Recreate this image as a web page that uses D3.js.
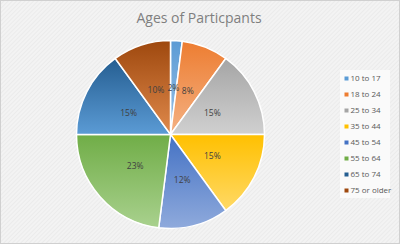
<!DOCTYPE html>
<meta charset="utf-8">
<style>
  body { margin: 0; }
  text { font-family: "Open Sans", "Liberation Sans", sans-serif; }
</style>
<body>
<div id="chart"></div>
</body>
<script src="https://d3js.org/d3.v7.min.js"></script>
<script>
// chart data
var ages = ["10 to 17", "18 to 24", "25 to 34", "35 to 44", "45 to 54", "55 to 64", "65 to 74", "75 or older"];
var shares = [2, 8, 15, 15, 12, 23, 15, 10];
var topColors = ["#5B9BD5", "#ED7D31", "#A5A5A5", "#FFC000", "#4472C4", "#70AD47", "#255E91", "#9E480E"];
var bottomColors = ["#9DC3E6", "#F4B183", "#D0D0D0", "#FFD966", "#8FAADC", "#A9D18E", "#5B9BD5", "#E08A4C"];

var width = 400, height = 244,
    cx = 170.5, cy = 134.5, radius = 94;

var svg = d3.select("#chart").append("svg")
  .attr("width", width)
  .attr("height", height);

var defs = svg.append("defs");

// faint diagonal texture of the background
var hatch = defs.append("pattern")
  .attr("id", "hatch")
  .attr("width", 3).attr("height", 3)
  .attr("patternUnits", "userSpaceOnUse")
  .attr("patternTransform", "rotate(45)");
hatch.append("rect").attr("width", 3).attr("height", 3).attr("fill", "#f3f3f3");
hatch.append("line").attr("x1", 0).attr("y1", 0).attr("x2", 0).attr("y2", 3)
  .attr("stroke", "#e4e4e4").attr("stroke-width", 1);

svg.append("rect")
  .attr("x", 0.5).attr("y", 0.5)
  .attr("width", width - 1).attr("height", height - 1)
  .attr("fill", "url(#hatch)")
  .attr("stroke", "#d0d0d0");

// title
svg.append("text")
  .attr("x", 199).attr("y", 23)
  .attr("text-anchor", "middle")
  .attr("font-size", 14)
  .attr("fill", "#7f7f7f")
  .text("Ages of Particpants");

// one vertical gradient per slice
ages.forEach(function(a, i){
  var g = defs.append("linearGradient")
    .attr("id", "grad" + i)
    .attr("x1", 0).attr("y1", 0).attr("x2", 0).attr("y2", 1);
  g.append("stop").attr("offset", "0%").attr("stop-color", topColors[i]);
  g.append("stop").attr("offset", "100%").attr("stop-color", bottomColors[i]);
});

var pie = d3.pie().sort(null).value(function(d){ return d; });
var arcs = pie(shares);
var arc = d3.arc().innerRadius(0).outerRadius(radius);
var labelArc = d3.arc().innerRadius(radius * 0.5).outerRadius(radius * 0.5);

var total = d3.sum(shares);

var g = svg.append("g")
  .attr("transform", "translate(" + cx + "," + cy + ")");

g.selectAll("path")
  .data(arcs)
  .enter().append("path")
  .attr("d", arc)
  .attr("fill", function(d, i){ return "url(#grad" + i + ")"; })
  .attr("stroke", "#ffffff")
  .attr("stroke-width", 1.5);

g.selectAll("text.lbl")
  .data(arcs)
  .enter().append("text")
  .attr("class", "lbl")
  .attr("transform", function(d){ return "translate(" + labelArc.centroid(d) + ")"; })
  .attr("text-anchor", "middle")
  .attr("dy", "0.35em")
  .attr("font-size", 8.5)
  .attr("fill", "#404040")
  .text(function(d){ return Math.round(d.data / total * 100) + "%"; });

// legend
var legend = svg.append("g");
legend.append("rect")
  .attr("x", 340).attr("y", 70)
  .attr("width", 50).attr("height", 128)
  .attr("fill", "#fafafa");

var ly = d3.scalePoint().domain(ages).range([78.5, 190.5]);

var items = legend.selectAll("g.item")
  .data(ages)
  .enter().append("g")
  .attr("class", "item")
  .attr("transform", function(d){ return "translate(0," + ly(d) + ")"; });

items.append("rect")
  .attr("x", 344.5).attr("y", -2)
  .attr("width", 4).attr("height", 4)
  .attr("fill", function(d, i){ return topColors[i]; });

items.append("text")
  .attr("x", 350.5)
  .attr("dy", "0.35em")
  .attr("font-size", 8)
  .attr("fill", "#595959")
  .text(function(d){ return d; });
</script>
